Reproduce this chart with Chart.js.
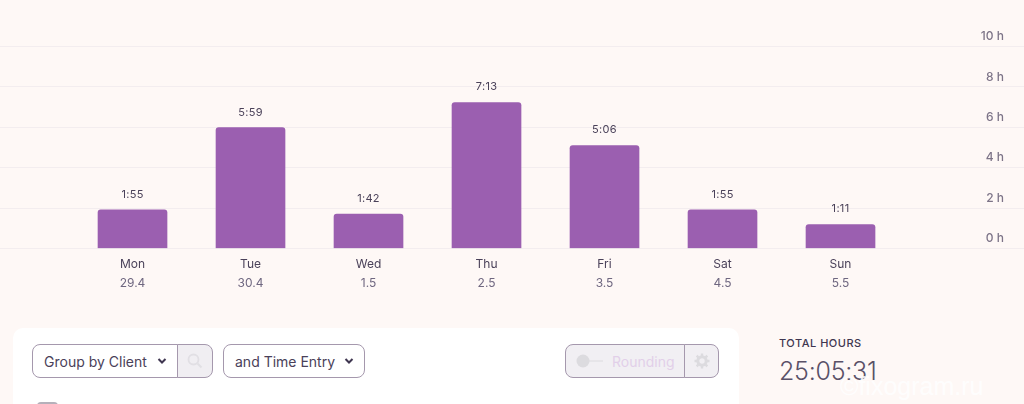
<!DOCTYPE html>
<html>
<head>
<meta charset="utf-8">
<script src="https://cdn.jsdelivr.net/npm/chart.js@4"></script>
<style>
html,body{margin:0;padding:0;width:1024px;height:404px;overflow:hidden;background:#fef8f6;font-family:Inter,sans-serif;color:#4a4159}
#viewChart{position:absolute;left:0;top:0}
.abs{position:absolute;box-sizing:border-box}
#card{left:13px;top:328px;width:726px;height:90px;background:#fff;border-radius:10px}
.box{top:344px;height:34px;border:1px solid #a598ad;background:#fff;font-size:14px;line-height:34px;white-space:nowrap}
.chev{position:absolute;top:13px}
</style>
</head>
<body>
<canvas id="viewChart" width="1024" height="296"></canvas>

<div class="abs" id="card"></div>
<div class="abs box" style="left:32px;width:146px;border-radius:8px 0 0 8px;padding-left:11px">Group by Client
  <svg class="chev" style="left:124px" width="10" height="6" viewBox="0 0 10 6"><path d="M1.5 1 L5 4.5 L8.5 1" fill="none" stroke="#3f3650" stroke-width="2"/></svg>
</div>
<div class="abs box" style="left:177px;width:36px;border-radius:0 8px 8px 0;background:#f0eef2">
  <svg style="position:absolute;left:9px;top:8px" width="16" height="16" viewBox="0 0 16 16"><circle cx="6.5" cy="6.5" r="5" fill="none" stroke="#e1dfe4" stroke-width="1.8"/><path d="M10.5 10.5 L14.5 14.5" stroke="#e1dfe4" stroke-width="2"/></svg>
</div>
<div class="abs box" style="left:223px;width:142px;border-radius:8px;padding-left:11px">and Time Entry
  <svg class="chev" style="left:120px" width="10" height="6" viewBox="0 0 10 6"><path d="M1.5 1 L5 4.5 L8.5 1" fill="none" stroke="#3f3650" stroke-width="2"/></svg>
</div>
<div class="abs box" style="left:565px;width:120px;border-radius:8px 0 0 8px;background:#f1eff3;color:#e2cfe9;padding-left:46px;font-weight:400">Rounding
  <svg style="position:absolute;left:10px;top:9px" width="28" height="14" viewBox="0 0 28 14"><circle cx="7" cy="7" r="6.5" fill="#dcdbdf"/><path d="M12 7 H27" stroke="#dcdbdf" stroke-width="1"/></svg>
</div>
<div class="abs box" style="left:684px;width:35px;border-radius:0 8px 8px 0;background:#f1eff3">
  <svg style="position:absolute;left:9px;top:8px" width="16" height="16" viewBox="0 0 16 16"><circle cx="8" cy="8" r="4.2" fill="none" stroke="#dcdbdf" stroke-width="3"/><path d="M8 0.5V3.5M8 12.5V15.5M0.5 8H3.5M12.5 8H15.5M2.7 2.7L4.8 4.8M11.2 11.2L13.3 13.3M2.7 13.3L4.8 11.2M11.2 4.8L13.3 2.7" stroke="#dcdbdf" stroke-width="2.4"/></svg>
</div>
<div class="abs" style="left:37px;top:402px;width:21px;height:6px;background:#b5b0ba;border-radius:4px 4px 0 0"></div>
<div class="abs" style="left:779px;top:336px;font-size:11px;font-weight:500;letter-spacing:.5px;line-height:14px;color:#3f3650">TOTAL HOURS</div>
<div class="abs" style="left:779px;top:355px;font-size:25px;font-weight:300;letter-spacing:-.25px;line-height:32px;color:#5a5168">25:05:31</div>
<div class="abs" style="left:840px;top:371px;font-size:25px;line-height:30px;color:rgba(255,255,255,.85);font-family:'Liberation Sans',sans-serif;white-space:nowrap">©fixogram.ru</div>

<script>
const days = ["Mon","Tue","Wed","Thu","Fri","Sat","Sun"];
const totals = ["29.4","30.4","1.5","2.5","3.5","4.5","5.5"];
const hours = [1.92,5.98,1.7,7.22,5.1,1.92,1.18];
const barLabels = ["1:55","5:59","1:42","7:13","5:06","1:55","1:11"];
const yTicks = [0,2,4,6,8,10];

const cnv = document.getElementById("viewChart");
const ctx = cnv.getContext("2d");

// day positions on the x axis, the extra room left and right keeps the grid full width
const xMin = -1.123;
const xMax = 7.555;

function dayTicks(scale){
    scale.ticks = days.map((d,i) => ({value:i}));
}

const barTextPlugin = {
    id: "barText",
    afterDatasetsDraw(chart){
        const c = chart.ctx;
        c.save();
        c.font = "11px Inter";
        c.letterSpacing = "0.3px";
        c.fillStyle = "#4a4159";
        c.textAlign = "center";
        c.textBaseline = "middle";
        chart.getDatasetMeta(0).data.forEach((bar,i) => {
            c.fillText(barLabels[i], bar.x, bar.y - 15.5);
        });
        c.restore();
    }
};

const viewChart = new Chart(ctx,{
    type: "bar",
    data: {
        datasets: [{
            data: hours.map((h,i) => ({x:i,y:h})),
            backgroundColor: "#9b5fb0",
            borderRadius: {topLeft:3,topRight:3},
            borderSkipped: "bottom",
            barThickness: 69
        }]
    },
    plugins: [barTextPlugin],
    options: {
        responsive: false,
        animation: false,
        layout: {padding: {top:46.5,left:0,right:0,bottom:0}},
        plugins: {legend: {display:false}, tooltip: {enabled:false}},
        scales: {
            x: {
                type: "linear",
                position: "bottom",
                offset: false,
                min: xMin,
                max: xMax,
                afterBuildTicks: dayTicks,
                afterFit(s){ s.height = 25.5; },
                grid: {display:false,drawTicks:false},
                border: {display:false},
                ticks: {
                    autoSkip: false,
                    maxRotation: 0,
                    padding: 9,
                    color: "#4a4159",
                    font: {family:"Inter",size:12},
                    callback: v => days[v]
                }
            },
            x2: {
                type: "linear",
                position: "bottom",
                offset: false,
                min: xMin,
                max: xMax,
                afterBuildTicks: dayTicks,
                afterFit(s){ s.height = 22; },
                grid: {display:false,drawTicks:false},
                border: {display:false},
                ticks: {
                    autoSkip: false,
                    maxRotation: 0,
                    padding: 2,
                    color: "#6f6780",
                    font: {family:"Inter",size:12},
                    callback: v => totals[v]
                }
            },
            y: {
                position: "right",
                min: 0,
                max: 10,
                afterBuildTicks(scale){ scale.ticks = yTicks.map(v => ({value:v})); },
                afterFit(s){ s.width = 0; },
                grid: {color:"#f3edef",lineWidth:1,drawTicks:false},
                border: {display:false},
                ticks: {
                    mirror: true,
                    padding: -20,
                    labelOffset: -10,
                    color: "#7d7488",
                    font: {family:"Inter",size:12,weight:"500"},
                    callback: v => v + " h"
                }
            }
        }
    }
});
</script>
</body>
</html>
